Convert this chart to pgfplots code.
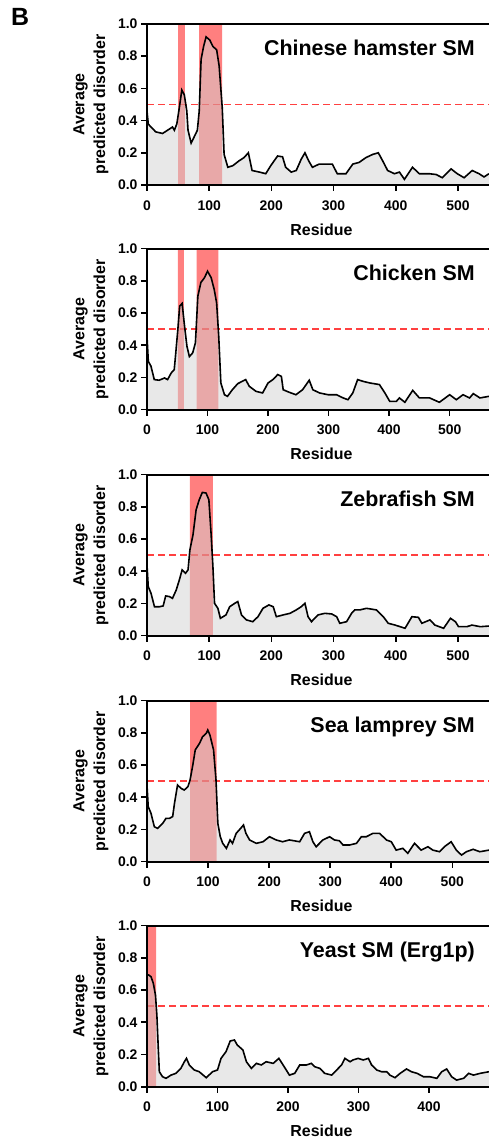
\documentclass[border=0pt]{standalone}
\usepackage{pgfplots}
\pgfplotsset{compat=1.18}
\usepackage{pgfplotstable}
\usepackage{fontspec}
\setmainfont{Liberation Sans}

\definecolor{dashred}{RGB}{255,64,64}
\definecolor{shadegray}{RGB}{210,210,210}
\definecolor{hlred}{RGB}{255,0,0}

\pgfplotstableread{
x y
0 0.46
2 0.38
4 0.37
14 0.33
25 0.32
33 0.34
41 0.36
44 0.34
48 0.38
52 0.48
56 0.59
60 0.56
64 0.46
66 0.34
71 0.26
76 0.30
81 0.34
84 0.46
87 0.78
91 0.86
95 0.92
101 0.90
106 0.86
112 0.84
116 0.74
121 0.48
124 0.19
130 0.11
138 0.12
148 0.15
156 0.17
163 0.20
169 0.09
181 0.08
191 0.07
199 0.12
210 0.18
218 0.175
223 0.11
232 0.08
240 0.09
248 0.16
254 0.20
260 0.15
266 0.11
277 0.13
288 0.13
298 0.13
306 0.07
320 0.07
331 0.13
341 0.14
352 0.17
363 0.19
372 0.20
379 0.15
387 0.09
398 0.07
406 0.08
414 0.035
427 0.11
438 0.07
454 0.07
465 0.065
475 0.045
489 0.10
499 0.07
510 0.045
523 0.09
534 0.07
542 0.05
550 0.07
}\hamster

\pgfplotstableread{
x y
0 0.456
2.2 0.30
6.6 0.27
12 0.187
20 0.183
29 0.197
34 0.187
40 0.228
45 0.249
47 0.33
51 0.50
54 0.643
58 0.66
62 0.52
66 0.394
70 0.33
75.5 0.353
80 0.415
84 0.705
89 0.79
95 0.82
100 0.86
106 0.82
111 0.747
115 0.664
118.5 0.456
122 0.166
128 0.093
133 0.083
141 0.124
150 0.162
163 0.187
169 0.145
180 0.114
191 0.104
200 0.166
208 0.187
216 0.218
222 0.207
225 0.124
235 0.108
246 0.093
257 0.124
268 0.183
274 0.124
285 0.104
299 0.093
313 0.093
324 0.073
332 0.062
340 0.104
348 0.187
357 0.176
368 0.166
384 0.156
393 0.104
401 0.052
412 0.052
417 0.073
426 0.046
439 0.12
450 0.073
467 0.073
483 0.046
500 0.093
511 0.062
522 0.093
533 0.073
539 0.10
550 0.073
565 0.083
}\chicken

\pgfplotstableread{
x y
0 0.44
2 0.305
6.5 0.263
12 0.18
20 0.18
26 0.185
30 0.247
36 0.243
41 0.232
47 0.284
52 0.346
56.5 0.409
62 0.388
66 0.409
69 0.533
74 0.627
79 0.782
84 0.844
89 0.89
95 0.886
99.5 0.844
103 0.637
106 0.43
108.6 0.201
114 0.17
118 0.108
127 0.129
133 0.18
141 0.201
146 0.212
152 0.129
160 0.098
170 0.087
178.5 0.118
186.5 0.17
196 0.191
203 0.18
208 0.118
219 0.129
230 0.139
240 0.16
248 0.18
254 0.201
259 0.118
264.5 0.087
275 0.129
286 0.139
297 0.135
305 0.118
310 0.077
321 0.087
329 0.139
334 0.16
342 0.16
353 0.17
369 0.16
380 0.118
388 0.077
399 0.066
407 0.056
415 0.046
426 0.118
436.5 0.114
442 0.077
455 0.098
463 0.066
477 0.046
488 0.108
496 0.087
501 0.056
514.5 0.056
522.5 0.066
536 0.056
550 0.06
}\zebrafish

\pgfplotstableread{
x y
0 0.476
2 0.342
6.6 0.30
12 0.217
17.5 0.207
25.7 0.238
31 0.269
36.6 0.269
42 0.28
45 0.362
50 0.476
56 0.455
61 0.445
67 0.466
70.5 0.507
75 0.60
79 0.694
86 0.735
91 0.776
97 0.797
99.5 0.818
103 0.787
109 0.694
113 0.507
116 0.238
120 0.155
124 0.114
130 0.083
136 0.135
140 0.114
146 0.176
151 0.197
158 0.228
162 0.176
168 0.135
179 0.114
190 0.124
200.5 0.155
211.5 0.135
222 0.124
233 0.135
250 0.124
258 0.176
266 0.186
271.6 0.124
277 0.093
288 0.135
299 0.155
307 0.135
315 0.13
321 0.104
332 0.104
343 0.114
351 0.155
359 0.155
370 0.176
381 0.176
392 0.135
400 0.124
408 0.072
419 0.083
427 0.052
438 0.114
449 0.072
460 0.093
468 0.072
479 0.062
487 0.093
498 0.124
506.5 0.072
515 0.041
523 0.062
534 0.077
545 0.062
560 0.072
}\lamprey

\pgfplotstableread{
x y
0 0.694
2.4 0.694
5.7 0.683
9 0.642
12 0.569
14 0.445
16 0.238
17.5 0.093
22 0.062
27 0.052
34 0.072
41 0.083
48 0.114
53 0.155
56 0.176
60 0.135
67 0.104
74 0.093
84 0.056
93 0.093
100 0.104
105 0.176
112 0.217
118 0.284
124 0.29
128 0.259
136 0.228
141 0.155
148 0.114
155 0.145
162 0.135
169 0.155
179 0.145
187 0.176
193 0.135
202 0.072
209.5 0.083
216.6 0.135
226 0.135
233 0.145
238 0.124
245 0.114
252 0.083
262 0.072
269 0.104
276 0.135
280.6 0.176
288 0.155
292 0.166
299.5 0.176
306.6 0.166
314 0.176
318.5 0.135
325.6 0.104
332.7 0.093
340 0.093
344.5 0.072
351.7 0.056
359 0.083
368 0.11
375 0.093
383 0.083
392 0.062
401 0.062
411 0.052
418 0.093
425 0.11
432 0.062
439 0.041
449 0.052
456 0.083
463 0.072
472.5 0.083
485 0.093
}\yeast

\tikzset{thresh/.style={draw=dashred, line width=1.5bp, dash pattern=on 7bp off 4bp}}

\pgfplotsset{
  panel/.style={
    width=342bp, height=161bp, scale only axis,
    anchor=south west,
    xmin=0, ymin=0, ymax=1,
    axis lines*=left,
    axis on top,
    clip mode=individual,
    axis line style={line width=2bp, black},
    every tick/.style={black, line width=1.6bp},
    tick align=outside,
    major tick length=6bp,
    ytick={0,0.2,0.4,0.6,0.8,1.0},
    yticklabel style={/pgf/number format/.cd, fixed, fixed zerofill, precision=1},
    xticklabel style={yshift=-6bp},
    /pgf/number format/assume math mode=true,
    tick label style={font=\bfseries\fontsize{14}{16}\selectfont},
    xlabel={Residue},
    xlabel style={font=\bfseries\fontsize{16}{19}\selectfont, at={(axis description cs:0.51,-0.2755)}, anchor=center},
    ylabel={Average\\predicted disorder},
    ylabel style={font=\bfseries\fontsize{16}{21}\selectfont, align=center, at={(axis description cs:-0.164,0.5)}, anchor=center},
  },
  curvefill/.style={fill=shadegray, fill opacity=0.5, draw=none},
  curveline/.style={draw=black, line width=1.6bp, draw opacity=1},
  hl/.style={fill=hlred, fill opacity=0.5, draw=none},
}

\newcommand{\paneltitle}[1]{\node[anchor=base east, inner sep=0pt, font=\bfseries\fontsize{21.5}{25}\selectfont] at (rel axis cs:0.959,0.805) {#1};}
\newcommand{\topline}{\draw[line width=2bp, black] (rel axis cs:0,1) -- (rel axis cs:1,1);}

\begin{document}
\begin{tikzpicture}
\useasboundingbox (0bp,0bp) rectangle (489bp,1144bp);
\node[anchor=base west, inner sep=0pt, font=\bfseries\fontsize{25}{30}\selectfont] at (11bp,1118bp) {B};

% Panel 1: Chinese hamster
\begin{axis}[panel, at={(147bp,959bp)}, xmax=550, xtick={0,100,...,500}]
\addplot[thresh] coordinates {(0,0.5) (550,0.5)};
\addplot[hl] coordinates {(50,0) (50,1) (61,1) (61,0)} \closedcycle;
\addplot[hl] coordinates {(84,0) (84,1) (121,1) (121,0)} \closedcycle;
\addplot[curvefill] table {\hamster} \closedcycle;
\addplot[curveline] table {\hamster};
\paneltitle{Chinese hamster SM}
\topline
\end{axis}

% Panel 2: Chicken
\begin{axis}[panel, at={(147bp,734.3bp)}, xmax=565, xtick={0,100,...,500}]
\draw[thresh] (axis cs:0,0.5) -- (axis cs:565,0.5);
\addplot[hl] coordinates {(51,0) (51,1) (61,1) (61,0)} \closedcycle;
\addplot[hl] coordinates {(82,0) (82,1) (118,1) (118,0)} \closedcycle;
\addplot[curvefill] table {\chicken} \closedcycle;
\addplot[curveline] table {\chicken};
\paneltitle{Chicken SM}
\topline
\end{axis}

% Panel 3: Zebrafish
\begin{axis}[panel, at={(147bp,508.3bp)}, xmax=550, xtick={0,100,...,500}]
\addplot[thresh] coordinates {(0,0.5) (550,0.5)};
\addplot[hl] coordinates {(69,0) (69,1) (106,1) (106,0)} \closedcycle;
\addplot[curvefill] table {\zebrafish} \closedcycle;
\addplot[curveline] table {\zebrafish};
\paneltitle{Zebrafish SM}
\topline
\end{axis}

% Panel 4: Sea lamprey
\begin{axis}[panel, at={(147bp,282.3bp)}, xmax=560, xtick={0,100,...,500}]
\addplot[thresh] coordinates {(0,0.5) (560,0.5)};
\addplot[hl] coordinates {(70.5,0) (70.5,1) (114,1) (114,0)} \closedcycle;
\addplot[curvefill] table {\lamprey} \closedcycle;
\addplot[curveline] table {\lamprey};
\paneltitle{Sea lamprey SM}
\topline
\end{axis}

% Panel 5: Yeast
\begin{axis}[panel, at={(147bp,57.3bp)}, xmax=485, xtick={0,100,...,400}]
\addplot[thresh] coordinates {(0,0.5) (485,0.5)};
\addplot[hl] coordinates {(0,0) (0,1) (13,1) (13,0)} \closedcycle;
\addplot[curvefill] table {\yeast} \closedcycle;
\addplot[curveline] table {\yeast};
\paneltitle{Yeast SM (Erg1p)}
\topline
\end{axis}
\end{tikzpicture}
\end{document}
